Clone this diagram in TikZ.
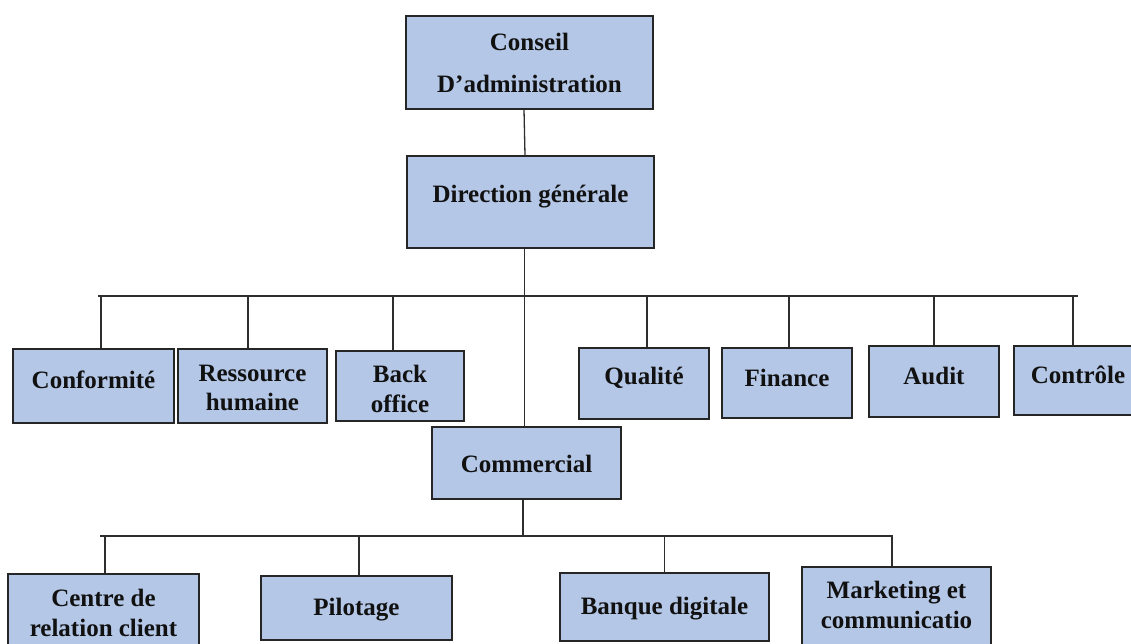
\documentclass[tikz,border=0pt]{standalone}
\usepackage{fontspec}
\setmainfont{Liberation Serif}
\usetikzlibrary{fit}
\definecolor{boxfill}{HTML}{B4C7E7}
\definecolor{boxline}{HTML}{262626}
\definecolor{wire}{HTML}{2E2E2E}
\definecolor{ink}{HTML}{111111}
\tikzset{
  orgbox/.style={draw=boxline, line width=1.5pt, fill=boxfill, inner sep=0pt},
  orgtext/.style={text=ink, font=\fontsize{25}{29.5}\selectfont\bfseries, align=center, inner sep=0pt},
  wireline/.style={draw=wire, line width=1.3pt}
}
% box: name, x1, y1, x2, y2, text y, text
\newcommand\orgcell[7]{%
  \node[orgbox, fit={(#2,#3)(#4,#5)}] (#1) {};
  \path (#1.center) coordinate (#1-c);
  \node[orgtext] (#1-t) at (#1-c |- {(0,#6)}) {#7};
}
\begin{document}
\begin{tikzpicture}[x=1pt, y=-1pt]
\useasboundingbox (0,0) rectangle (1131,644);

% top of the hierarchy
\orgcell{cons}{406}{16}{653}{109}{63}{Conseil\\[12.5pt]D’administration}
\orgcell{dir}{407}{156}{654}{248}{197}{Direction générale}

% first-level departments
\orgcell{conf}{13}{349}{174}{423}{380}{Conformité}
\orgcell{rh}{178}{349}{327}{423}{388}{Ressource\\humaine}
\orgcell{back}{336}{351}{464}{421}{389}{Back\\office}
\orgcell{qual}{579}{348}{709}{419}{378}{Qualité}
\orgcell{fin}{722}{348}{852}{418}{378}{Finance}
\orgcell{aud}{869}{346}{999}{417}{376}{Audit}
\orgcell{ctrl}{1014}{346}{1142}{415}{375}{Contrôle}
\orgcell{com}{432}{427}{621}{499}{464}{Commercial}

% commercial units
\orgcell{crc}{8}{574}{199}{660}{613}{Centre de\\relation client}
\orgcell{pil}{261}{576}{452}{640}{610}{Pilotage}
\orgcell{bq}{560}{573}{769}{641}{609}{Banque digitale}
\orgcell{mkt}{802}{567}{991}{660}{605}{Marketing et\\communicatio}

% bars
\coordinate (barL) at (98,296);
\coordinate (barR) at (1078,296);
\coordinate (subL) at (100,536);
\coordinate (subR) at (893,536);

\draw[wireline] ([xshift=-5.5pt]cons.south) -- ([xshift=-5.5pt]dir.north);
\draw[wireline] ([xshift=-6pt]dir.south) -- ([xshift=-2pt]com.north);
\draw[wireline] (barL) -- (barR);
\draw[wireline] ([xshift=7.5pt]conf.north) -- ([xshift=7.5pt]conf.north |- barL);
\draw[wireline] ([xshift=-4.5pt]rh.north) -- ([xshift=-4.5pt]rh.north |- barL);
\draw[wireline] ([xshift=-7pt]back.north) -- ([xshift=-7pt]back.north |- barL);
\draw[wireline] ([xshift=3pt]qual.north) -- ([xshift=3pt]qual.north |- barL);
\draw[wireline] ([xshift=2pt]fin.north) -- ([xshift=2pt]fin.north |- barL);
\draw[wireline] (aud.north) -- (aud.north |- barL);
\draw[wireline] ([xshift=-5pt]ctrl.north) -- ([xshift=-5pt]ctrl.north |- barL);

\draw[wireline] ([xshift=-3.5pt]com.south) -- ([xshift=-3.5pt]com.south |- subL);
\draw[wireline] (subL) -- (subR);
\draw[wireline] ([xshift=1.5pt]crc.north) -- ([xshift=1.5pt]crc.north |- subL);
\draw[wireline] ([xshift=2.5pt]pil.north) -- ([xshift=2.5pt]pil.north |- subL);
\draw[wireline] (bq.north) -- (bq.north |- subL);
\draw[wireline] ([xshift=-4.5pt]mkt.north) -- ([xshift=-4.5pt]mkt.north |- subL);
\end{tikzpicture}
\end{document}
